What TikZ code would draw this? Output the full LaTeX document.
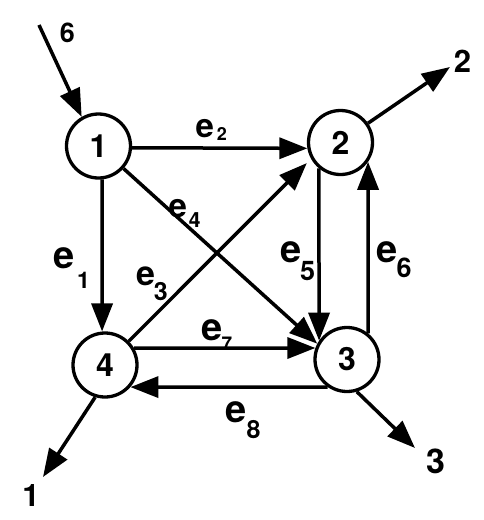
\documentclass[tikz,border=0pt]{standalone}
\usepackage{fontspec}
\setmainfont{TeX Gyre Heros}
\usetikzlibrary{arrows.meta}
\newcommand\elab[5]{\fontsize{#1}{#1}\selectfont e\kern#2pt\raisebox{-#3pt}{\fontsize{#4}{#4}\selectfont #5}}
\begin{document}
\begin{tikzpicture}[x=1pt,y=-1pt,
  vtx/.style={circle,draw,line width=3.3pt,minimum size=64pt,inner sep=0pt,font=\bfseries\fontsize{32}{32}\selectfont},
  arc/.style={line width=3.5pt,-{Triangle[length=28pt,width=21pt]}},
  elabel/.style={anchor=base west,inner sep=0pt,outer sep=0pt,font=\bfseries},
  tlabel/.style={inner sep=0pt,outer sep=0pt}]
\useasboundingbox (0,0) rectangle (483,520);
\node[vtx] (n1) at (98.5,146) {1};
\node[vtx] (n2) at (340.5,142.5) {2};
\node[vtx] (n3) at (347,359.5) {3};
\node[vtx] (n4) at (105,365) {4};
\coordinate (in6) at (39,25);
\coordinate (out2) at (450,67);
\coordinate (out1) at (43,477);
\coordinate (out3) at (415,448);
% edges
\draw[arc] (in6) -- (n1.120);
\draw[arc] (n2.35) -- (out2);
\draw[arc] (n4.253) -- (out1);
\draw[arc] (n3.287) -- (out3);
\draw[arc] (n1.276) -- (n4.95);
\draw[arc] (n1.357) -- (n2.190);
\draw[arc,shorten >=6pt] (n4.45) -- (n2.209);
\draw[arc] (n1.318) -- (n3.152);
\draw[arc] (n2.230) -- (n3.146.7);
\draw[arc] (n3.51.2) -- (n2.325.2);
\draw[arc] (n4.30.5) -- (n3.160);
\draw[arc] (n3.235) -- (n4.319);
% terminal labels
\node[tlabel,font=\bfseries\fontsize{27}{27}\selectfont] (t6) at (67.5,32.5) {6};
\node[tlabel,font=\bfseries\fontsize{31}{31}\selectfont] (t2) at (462.5,61) {2};
\node[tlabel,font=\bfseries\fontsize{31}{31}\selectfont] (t1) at (31,496) {1};
\node[tlabel,font=\bfseries\fontsize{34}{34}\selectfont] (t3) at (436,461.5) {3};
% edge labels
\node[elabel] (l1) at (53,268) {\elab{38}{3}{20}{23}{1}};
\node[elabel] (l2) at (195.5,137) {\elab{33}{3}{3}{18}{2}};
\node[elabel] (l3) at (136,285) {\elab{34}{-1}{15}{25}{3}};
\node[elabel] (l4) at (168.5,217) {\elab{33}{2}{10}{21}{4}};
\node[elabel] (l5) at (280,262) {\elab{38}{-1}{18}{27}{5}};
\node[elabel] (l6) at (376.5,262) {\elab{38}{-1}{15}{27}{6}};
\node[elabel] (l7) at (201.5,340) {\elab{38}{-1}{10}{19}{7}};
\node[elabel] (l8) at (225.5,422) {\elab{38}{0}{16}{25}{8}};
\end{tikzpicture}
\end{document}
